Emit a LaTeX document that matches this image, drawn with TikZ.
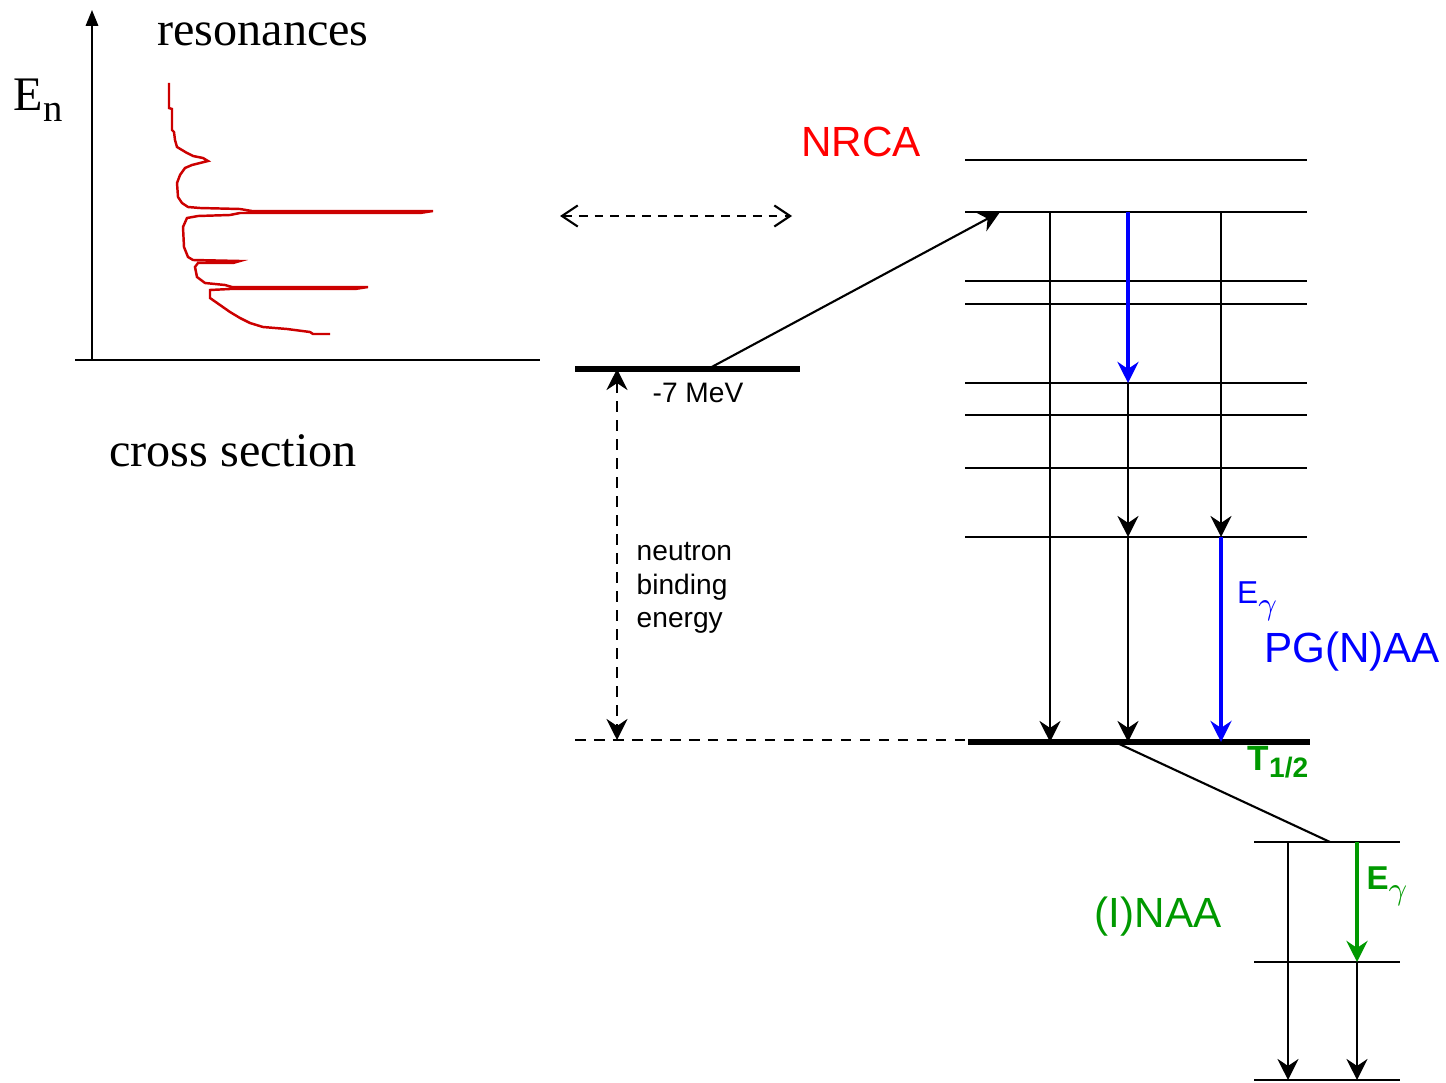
\documentclass[tikz,border=0pt]{standalone}
\usepackage{fontspec}
\setmainfont{Liberation Serif}
\newfontfamily\labelsans{Liberation Sans}
\usetikzlibrary{arrows.meta}
\definecolor{ResRed}{HTML}{CC0000}
\definecolor{NrcaRed}{HTML}{FF0000}
\definecolor{PgBlue}{HTML}{0000FF}
\definecolor{NaaGreen}{HTML}{009900}

\begin{document}
\begin{tikzpicture}[
    x=0.01cm,
    y=-0.01cm,
    serif/.style={inner sep=0pt, font=\fontsize{13.7}{16}\selectfont},
    sans/.style={inner sep=0pt, font=\labelsans\fontsize{12}{14}\selectfont},
    small/.style={inner sep=0pt, font=\labelsans\fontsize{8}{9.5}\selectfont},
    level/.style={line width=0.6pt},
    ground/.style={line width=1.5pt},
    axis/.style={-{Triangle[length=4.5pt,width=3.5pt]}, line width=0.6pt},
    decay/.style={-{Stealth[length=6pt,width=6pt,inset=2pt]}, line width=0.6pt},
    bluedecay/.style={decay, line width=1.2pt, color=PgBlue},
    greendecay/.style={decay, line width=1.2pt, color=NaaGreen},
    gap/.style={{Stealth[length=6pt,width=6pt,inset=2pt]}-{Stealth[length=6pt,width=6pt,inset=2pt]}, line width=0.6pt, dash pattern=on 3pt off 2.4pt},
    match/.style={{Straight Barb[length=4.5pt,width=6pt]}-{Straight Barb[length=4.5pt,width=6pt]}, line width=0.6pt, dash pattern=on 2.5pt off 2pt},
    resonance/.style={line width=0.7pt, color=ResRed, line join=miter}
  ]
    \useasboundingbox (0,0) rectangle (1446,1082);

    % cross section plot
    \coordinate (origin) at (92,360);
    \coordinate (top) at (92,10);
    \coordinate (xleft) at (75,360);
    \coordinate (xright) at (540,360);
    \draw[axis] (origin) -- (top);
    \draw[level] (xleft) -- (xright);
    \draw[resonance] plot coordinates {(169,83) (169,108) (172,109) (172,130) (174,132) (175,140) (177,147)
      (182,150) (187,153) (193,156) (203,158) (208,161) (200,163) (192,165) (185,168) (180,175) (177,183)
      (178,197) (182,203) (188,207) (200,208) (240,209) (252,211) (433,211) (420,213) (250,213) (240,213)
      (230,215) (198,216) (187,218) (183,227) (184,247) (188,257) (193,260) (240,261) (233,263) (198,263)
      (195,267) (197,277) (205,283) (225,285) (232,287) (368,287) (355,289) (230,289) (210,290) (210,298)
      (220,305) (230,312) (240,318) (250,323) (263,327) (287,329) (310,332) (313,334) (330,334)};
    \node[serif] (resonances) at (263,34) {resonances};
    \node[serif] (energy) at (38,100) {E\raisebox{-3pt}{\fontsize{11}{11}\selectfont n}};
    \node[serif] (xsec) at (233,451) {cross section};

    % binding energy
    \coordinate (bindL) at (575,369);
    \coordinate (bindR) at (800,369);
    \coordinate (capt) at (708,369);
    \coordinate (gapT) at (617,369);
    \coordinate (gapB) at (617,740);
    \coordinate (dashL) at (575,740);
    \coordinate (dashR) at (965,740);
    \coordinate (matchL) at (560,216);
    \coordinate (matchR) at (792,216);
    \draw[ground] (bindL) -- (bindR);
    \draw[level, dash pattern=on 3pt off 2.4pt] (dashL) -- (dashR);
    \draw[gap] (gapT) -- (gapB);
    \draw[match] (matchL) -- (matchR);
    \node[small] (mev) at (698,393) {-7 MeV};
    \node[small, anchor=west, align=left] (binding) at (636,588) {neutron\\binding\\energy};

    % compound nucleus levels
    \foreach \y [count=\i] in {160,212,281,304,383,415,468,537}
      \draw[level] (965,\y) coordinate (lv\i) -- (1307,\y);
    \draw[ground] (968,742) coordinate (gs) -- (1310,742);
    \foreach \y [count=\i] in {842,962,1080}
      \draw[level] (1254,\y) coordinate (nv\i) -- (1400,\y);

    \coordinate (c1) at (1050,0);
    \coordinate (c2) at (1128,0);
    \coordinate (c3) at (1221,0);
    \coordinate (d1) at (1288,0);
    \coordinate (d2) at (1357,0);
    \coordinate (reso) at (1000,212);
    \coordinate (betaA) at (1115,742);
    \coordinate (betaB) at (1330,842);

    \draw[decay] (capt) -- (reso);
    \draw[decay] (c1 |- lv2) -- (c1 |- gs);
    \draw[bluedecay] (c2 |- lv2) -- (c2 |- lv5);
    \draw[decay] (c2 |- lv5) -- (c2 |- lv8);
    \draw[decay] (c2 |- lv8) -- (c2 |- gs);
    \draw[decay] (c3 |- lv2) -- (c3 |- lv8);
    \draw[bluedecay] (c3 |- lv8) -- (c3 |- gs);
    \draw[level] (betaA) -- (betaB);
    \draw[decay] (d1 |- nv1) -- (d1 |- nv3);
    \draw[greendecay] (d2 |- nv1) -- (d2 |- nv2);
    \draw[decay] (d2 |- nv2) -- (d2 |- nv3);

    \node[sans, text=NrcaRed] (nrca) at (861,142) {NRCA};
    \node[sans, text=PgBlue, font=\labelsans\fontsize{9}{10}\selectfont] (egblue) at (1257,601) {E\raisebox{-3pt}{$\gamma$}};
    \node[sans, text=PgBlue] (pgaa) at (1352,652) {PG(N)AA};
    \node[sans, text=NaaGreen, font=\labelsans\bfseries\fontsize{10}{12}\selectfont] (half) at (1278,762) {T\raisebox{-2pt}{\fontsize{8}{8}\selectfont 1/2}};
    \node[sans, text=NaaGreen, font=\labelsans\bfseries\fontsize{9.4}{11}\selectfont] (eggreen) at (1387,886) {E\raisebox{-3pt}{$\gamma$}};
    \node[sans, text=NaaGreen] (naa) at (1158,917) {(I)NAA};
  \end{tikzpicture}
\end{document}
